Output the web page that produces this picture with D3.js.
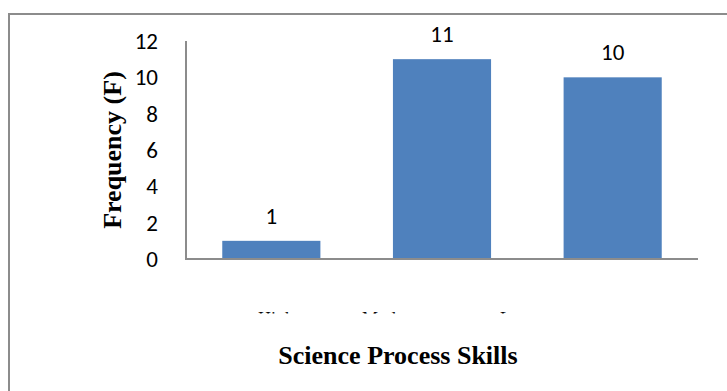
<!DOCTYPE html>
<html>
<head>
<meta charset="utf-8">
<script src="https://cdn.jsdelivr.net/npm/d3@7/dist/d3.min.js"></script>
<style>
  html, body { margin: 0; padding: 0; background: #fff; }
  svg { display: block; }
</style>
</head>
<body>
<svg id="chart" width="727" height="391"></svg>
<script>
// Frequency of science process skill levels
const categories = ["High", "Moderate", "Low"];
const frequencies = [1, 11, 10];
const yTicks = [0, 2, 4, 6, 8, 10, 12];
const yTitle = "Frequency (F)";
const xTitle = "Science Process Skills";

const svg = d3.select("#chart");
const W = 727, H = 391;
const sans = "Carlito, 'Liberation Sans', Arial, sans-serif";
const serif = "'Liberation Serif', 'Times New Roman', serif";

// Chart frame (runs past the right and bottom edges)
svg.append("rect")
  .attr("x", 9).attr("y", 14)
  .attr("width", 800).attr("height", 500)
  .attr("fill", "none")
  .attr("stroke", "#8c8c8c")
  .attr("stroke-width", 2);

const plot = { left: 186, right: 698, top: 41, bottom: 259 };

const x = d3.scaleBand()
  .domain(categories)
  .range([plot.left, plot.right])
  .paddingInner(0.425)
  .paddingOuter(0.2125);

const y = d3.scaleLinear()
  .domain([0, 12])
  .range([plot.bottom, plot.top]);

// Bars
svg.append("g").selectAll("rect")
  .data(categories)
  .join("rect")
  .attr("x", d => x(d))
  .attr("y", (d, i) => y(frequencies[i]))
  .attr("width", x.bandwidth())
  .attr("height", (d, i) => y(0) - y(frequencies[i]))
  .attr("fill", "#4f81bd");

// Value labels
svg.append("g").selectAll("text")
  .data(categories)
  .join("text")
  .attr("x", d => x(d) + x.bandwidth() / 2)
  .attr("y", (d, i) => y(frequencies[i]) - 17)
  .attr("text-anchor", "middle")
  .style("font-family", sans)
  .style("font-size", "23px")
  .attr("fill", "#000")
  .text((d, i) => frequencies[i]);

// Y axis: labels only, no tick marks
const yAxis = d3.axisLeft(y).tickValues(yTicks).tickSize(0).tickPadding(28);
const gy = svg.append("g")
  .attr("transform", `translate(${plot.left},0)`)
  .call(yAxis);
gy.select(".domain").remove();
gy.selectAll("text")
  .style("font-family", sans)
  .style("font-size", "23px")
  .attr("fill", "#000");

// Axis lines
svg.append("line")
  .attr("x1", plot.left).attr("x2", plot.left)
  .attr("y1", plot.top).attr("y2", plot.bottom + 1)
  .attr("stroke", "#8c8c8c").attr("stroke-width", 2);
svg.append("line")
  .attr("x1", plot.left - 1).attr("x2", plot.right)
  .attr("y1", plot.bottom).attr("y2", plot.bottom)
  .attr("stroke", "#8c8c8c").attr("stroke-width", 2);

// Category labels, clipped so only their upper edge shows
svg.append("defs").append("clipPath").attr("id", "catClip")
  .append("rect").attr("x", 0).attr("y", 310.5).attr("width", W).attr("height", 3);
const catX = [258, 362, 500];
svg.append("g").attr("clip-path", "url(#catClip)")
  .selectAll("text")
  .data(categories)
  .join("text")
  .attr("x", (d, i) => catX[i])
  .attr("y", 325)
  .style("font-family", serif)
  .style("font-size", "18px")
  .attr("fill", "#000")
  .text(d => d);

// Axis titles
svg.append("text")
  .attr("transform", "translate(121,150) rotate(-90)")
  .attr("text-anchor", "middle")
  .style("font-family", serif)
  .style("font-weight", "bold")
  .style("font-size", "26px")
  .attr("fill", "#000")
  .text(yTitle);

svg.append("text")
  .attr("x", 398).attr("y", 364)
  .attr("text-anchor", "middle")
  .style("font-family", serif)
  .style("font-weight", "bold")
  .style("font-size", "26px")
  .attr("fill", "#000")
  .text(xTitle);
</script>
</body>
</html>
